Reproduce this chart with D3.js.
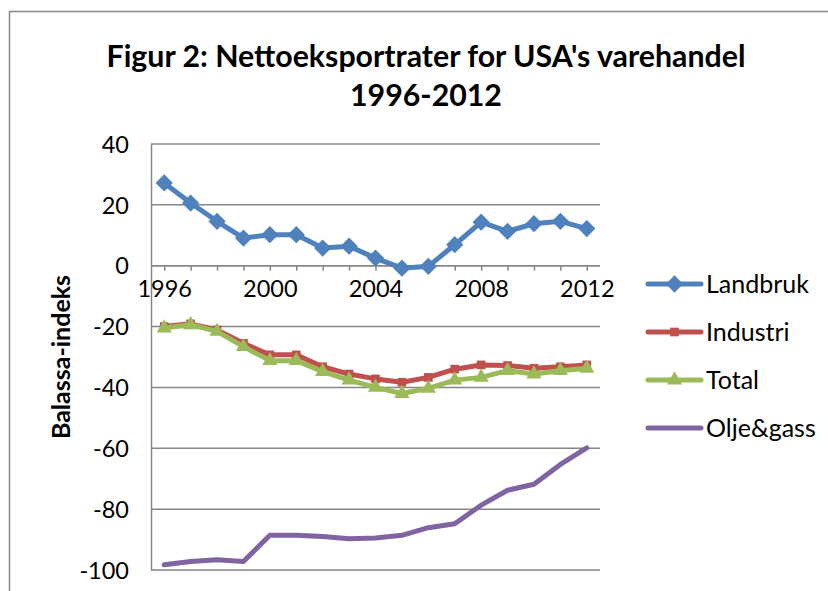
<!DOCTYPE html>
<head>
  <meta charset="utf-8">
  <style>
    body { margin: 0; background: #fff; }
    svg text { font-family: Lato, "Open Sans", sans-serif; fill: #000; }
    svg .grid { stroke: #868686; stroke-width: 1.5px; }
    svg .series { fill: none; stroke-width: 5px; stroke-linejoin: round; stroke-linecap: round; }
  </style>
</head>
<body>
<script src="https://d3js.org/d3.v7.min.js"></script>
<script>
  // data
  var years = [1996, 1997, 1998, 1999, 2000, 2001, 2002, 2003, 2004,
               2005, 2006, 2007, 2008, 2009, 2010, 2011, 2012];
  var landbruk = [27.2, 20.6, 14.6, 9.1, 10.2, 10.2, 5.8, 6.4, 2.5,
                  -0.8, -0.2, 6.9, 14.3, 11.3, 13.8, 14.6, 12.2];
  var industri = [-20.0, -19.1, -21.1, -25.5, -29.3, -29.3, -33.2, -35.6, -37.2,
                  -38.3, -36.7, -34.0, -32.6, -32.8, -33.7, -33.2, -32.6];
  var total = [-20.5, -19.4, -21.6, -26.6, -31.2, -31.2, -34.8, -37.6, -40.0,
               -42.0, -40.3, -37.6, -36.7, -34.5, -35.6, -34.5, -33.7];
  var oljeGass = [-98.3, -97.2, -96.6, -97.2, -88.6, -88.6, -89.0, -89.7, -89.5,
                  -88.6, -86.1, -84.8, -78.7, -73.8, -71.8, -65.3, -59.9];
  var yTicks = [40, 20, 0, -20, -40, -60, -80, -100];
  var xLabels = [1996, 2000, 2004, 2008, 2012];

  var series = [
    { name: "Landbruk",  values: landbruk, color: "#4F81BD", marker: "diamond" },
    { name: "Industri",  values: industri, color: "#C0504D", marker: "square" },
    { name: "Total",     values: total,    color: "#9BBB59", marker: "triangle" },
    { name: "Olje&gass", values: oljeGass, color: "#8064A2", marker: null }
  ];

  var width = 828, height = 591;
  var plot = { left: 151, right: 600, top: 144, bottom: 570 };

  var svg = d3.select("body").append("svg")
      .attr("width", width)
      .attr("height", height);

  // outer chart border (runs off the right and bottom edge)
  svg.append("rect")
      .attr("x", 9.5).attr("y", 11.5)
      .attr("width", 900).attr("height", 700)
      .style("fill", "none")
      .style("stroke", "#868686")
      .style("stroke-width", "1.5px");

  // title
  var title = svg.append("text")
      .attr("text-anchor", "middle")
      .style("font-size", "30.3px")
      .style("font-weight", "bold");
  title.append("tspan").attr("x", 426).attr("y", 67)
      .text("Figur 2: Nettoeksportrater for USA's varehandel");
  title.append("tspan").attr("x", 426).attr("y", 106)
      .text("1996-2012");

  // scales
  var xScale = d3.scalePoint().domain(years)
      .range([plot.left, plot.right]).padding(0.5);
  var yScale = d3.scaleLinear().domain([-100, 40])
      .range([plot.bottom, plot.top]);

  // horizontal grid lines
  svg.append("g").selectAll("line")
    .data(yTicks)
    .join("line")
      .classed("grid", true)
      .attr("x1", plot.left).attr("x2", plot.right)
      .attr("y1", function(d) { return yScale(d); })
      .attr("y2", function(d) { return yScale(d); });

  // y axis (plain hyphen for minus, like the original)
  var yAxis = d3.axisLeft(yScale)
      .tickValues(yTicks)
      .tickSize(0)
      .tickPadding(22)
      .tickFormat(function(d) { return String(d); });
  var ya = svg.append("g")
      .attr("transform", "translate(" + plot.left + ",0)")
      .call(yAxis);
  ya.select(".domain").style("stroke", "#868686").style("stroke-width", "1.5px");
  ya.selectAll(".tick text").style("font-size", "23.5px").attr("dy", "0.35em");

  // x axis sits on the zero line
  var xAxis = d3.axisBottom(xScale)
      .tickSizeInner(5)
      .tickSizeOuter(0)
      .tickPadding(10)
      .tickFormat(function(d) { return xLabels.indexOf(d) >= 0 ? d : ""; });
  var xa = svg.append("g")
      .attr("transform", "translate(0," + yScale(0) + ")")
      .call(xAxis);
  xa.select(".domain").attr("d", "M" + plot.left + ",0H" + plot.right)
      .style("stroke", "#868686").style("stroke-width", "1.5px");
  xa.selectAll(".tick line").style("stroke", "#868686").style("stroke-width", "1.5px");
  xa.selectAll(".tick text").style("font-size", "23.5px");

  // y axis title
  svg.append("text")
      .attr("transform", "translate(70,357) rotate(-90)")
      .attr("text-anchor", "middle")
      .style("font-size", "25px")
      .style("font-weight", "bold")
      .text("Balassa-indeks");

  var line = d3.line()
      .x(function(d, i) { return xScale(years[i]); })
      .y(function(d) { return yScale(d); });

  function markerPath(type) {
    if (type === "diamond") return d3.symbol().type(d3.symbolDiamond2).size(190)();
    if (type === "square") return d3.symbol().type(d3.symbolSquare).size(75)();
    if (type === "triangle") return d3.symbol().type(d3.symbolTriangle).size(100)();
    return null;
  }

  series.forEach(function(s) {
    var g = svg.append("g");
    g.append("path")
        .datum(s.values)
        .classed("series", true)
        .style("stroke", s.color)
        .attr("d", line);
    if (s.marker) {
      g.selectAll("path.mark")
        .data(s.values)
        .join("path")
          .classed("mark", true)
          .attr("d", markerPath(s.marker))
          .attr("transform", function(d, i) {
            return "translate(" + xScale(years[i]) + "," + yScale(d) + ")";
          })
          .style("fill", s.color);
    }
  });

  // legend
  var legendY = d3.scaleLinear().domain([0, 3]).range([284, 428]);
  var lg = svg.append("g").selectAll("g")
    .data(series)
    .join("g")
      .attr("transform", function(d, i) { return "translate(0," + legendY(i) + ")"; });
  lg.append("line")
      .attr("x1", 648).attr("x2", 701)
      .attr("y1", 0).attr("y2", 0)
      .style("stroke", function(d) { return d.color; })
      .style("stroke-width", "5px")
      .style("stroke-linecap", "round");
  lg.append("path")
      .attr("d", function(d) { return markerPath(d.marker); })
      .attr("transform", "translate(674.5,0)")
      .style("fill", function(d) { return d.color; });
  lg.append("text")
      .attr("x", 706)
      .attr("dy", "0.35em")
      .style("font-size", "25px")
      .text(function(d) { return d.name; });
</script>
</body>
</html>
